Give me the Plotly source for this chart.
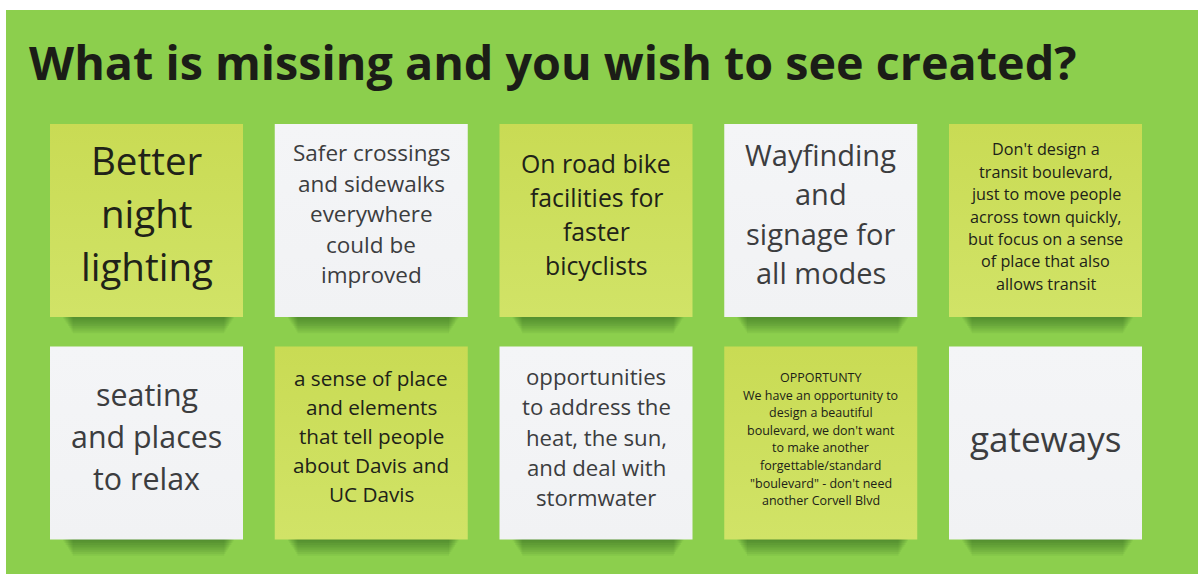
import plotly.graph_objects as go

# ---------------- data ----------------
TITLE = "What is missing and you wish to see created?"

NOTE_LINES = [
    ["Better", "night", "lighting"],
    ["Safer crossings", "and sidewalks", "everywhere", "could be", "improved"],
    ["On road bike", "facilities for", "faster", "bicyclists"],
    ["Wayfinding", "and", "signage for", "all modes"],
    ["Don't design a", "transit boulevard,", "just to move people", "across town quickly,",
     "but focus on a sense", "of place that also", "allows transit"],
    ["seating", "and places", "to relax"],
    ["a sense of place", "and elements", "that tell people", "about Davis and", "UC Davis"],
    ["opportunities", "to address the", "heat, the sun,", "and deal with", "stormwater"],
    ["OPPORTUNTY", "We have an opportunity to", "design a beautiful", "boulevard, we don't want",
     "to make another", "forgettable/standard", "\"boulevard\" - don't need", "another Corvell Blvd"],
    ["gateways"],
]
NOTE_KIND = ["yellow", "white", "yellow", "white", "yellow",
             "white", "yellow", "white", "yellow", "white"]

# ---------------- styles ----------------
FONT_SIZE = [38.5, 22.5, 24.8, 29, 16.2, 30.4, 20.7, 22.2, 12.5, 35]
LINE_H = [53, 30.5, 34, 39.5, 22.4, 42, 29, 30.2, 17.6, 42]
TEXT_SHIFT = [-8, -7, -7, -7, -4, -7, -7, -6, -4, -5]

W, H = 1198, 574
COL0, COL_STEP = 50, 224.75
ROW0, ROW_STEP = 124, 222.5
NOTE_W, NOTE_H = 193, 193
GREEN = "#8CCF4D"
COLORS = {"yellow": ("#C9DB54", "#D1E367"), "white": ("#F4F5F7", "#F1F2F4")}
TEXT_COLOR = {"yellow": "#202218", "white": "#3c3d3f"}

fig = go.Figure()
shapes = [dict(type="rect", xref="x", yref="y", x0=6, x1=W, y0=10, y1=H,
               fillcolor=GREEN, line=dict(width=0), layer="below")]
annotations = []

for i, lines in enumerate(NOTE_LINES):
    row, col = divmod(i, 5)
    left = COL0 + col * COL_STEP
    top = ROW0 + row * ROW_STEP
    right = left + NOTE_W
    bottom = top + NOTE_H
    kind = NOTE_KIND[i]

    # soft shadow beneath the note
    for k in range(1, 10):
        shapes.append(dict(type="rect", xref="x", yref="y",
                           x0=left + 12 + k * 1.2, x1=right - 8 - k * 1.2,
                           y0=bottom - 2, y1=bottom + 1.8 * k,
                           fillcolor="rgba(25,60,15,0.06)", line=dict(width=0),
                           layer="below"))

    c_top, c_bot = COLORS[kind]
    fig.add_trace(go.Scatter(
        x=[left, right, right, left, left], y=[top, top, bottom, bottom, top],
        mode="lines", line=dict(width=0), fill="toself",
        fillgradient=dict(type="vertical", colorscale=[[0, c_top], [1, c_bot]],
                          start=top, stop=bottom),
        hoverinfo="skip", showlegend=False))

    cx = (left + right) / 2
    cy = (top + bottom) / 2 + TEXT_SHIFT[i]
    n = len(lines)
    for j, txt in enumerate(lines):
        y = cy + (j - (n - 1) / 2) * LINE_H[i]
        annotations.append(dict(
            x=cx, y=y, xref="x", yref="y", text=txt, showarrow=False,
            xanchor="center", yanchor="middle",
            font=dict(family="Open Sans", size=FONT_SIZE[i], color=TEXT_COLOR[kind])))

annotations.append(dict(
    x=27, y=62, xref="x", yref="y", text=TITLE, showarrow=False,
    xanchor="left", yanchor="middle",
    font=dict(family="Open Sans", size=46.7, color="#1b1d17", weight="bold")))

fig.update_layout(
    width=W, height=H, margin=dict(l=0, r=0, t=0, b=0),
    paper_bgcolor="white", plot_bgcolor="white",
    xaxis=dict(range=[0, W], visible=False, fixedrange=True),
    yaxis=dict(range=[H, 0], visible=False, fixedrange=True),
    shapes=shapes, annotations=annotations, showlegend=False,
)

fig.write_html("out.html", config={"displayModeBar": False},
               post_script="document.body.style.margin='0px';document.body.style.overflow='hidden';")
